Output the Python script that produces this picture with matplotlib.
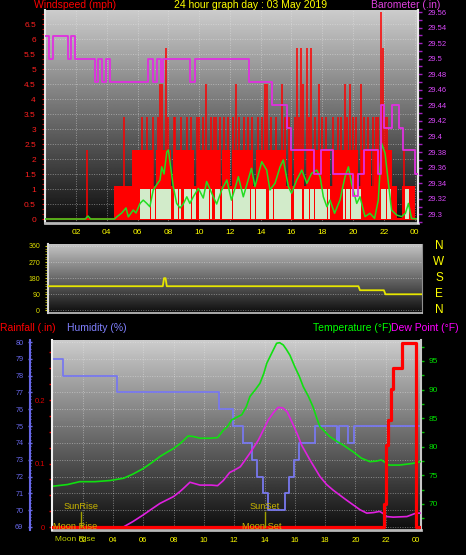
import numpy as np
import matplotlib
matplotlib.use('Agg')
import matplotlib.pyplot as plt
from matplotlib.ticker import MultipleLocator, FuncFormatter
import matplotlib.transforms as mtransforms

plt.rcParams['font.family'] = ['Liberation Sans', 'DejaVu Sans']

# ---------------- data ----------------
hour_ticks = [2, 4, 6, 8, 10, 12, 14, 16, 18, 20, 22, 24]
hour_labels = ['02', '04', '06', '08', '10', '12', '14', '16', '18', '20', '22', '00']

# gust (mph), dominant level per 10-minute slot (6 per hour)
gust_base = [
    0, 0, 0, 0, 0, 0,
    0, 0, 0, 0, 0, 0,
    0, 0, 0, 0, 0, 0,
    0, 0, 0, 0, 0, 0,
    0, 0, 0, 1.1, 1.1, 1.1,
    1.1, 1.1, 1.1, 1.1, 2.3, 2.3,
    2.3, 2.3, 2.3, 2.3, 2.3, 2.3,
    1.1, 2.3, 2.3, 2.3, 2.3, 2.3,
    2.3, 1.1, 2.3, 2.3, 2.3, 2.3,
    2.3, 2.3, 2.3, 2.3, 1.1, 2.3,
    2.3, 2.3, 2.3, 2.3, 2.3, 2.3,
    2.3, 2.3, 1.1, 2.3, 2.3, 2.3,
    1.1, 2.3, 2.3, 2.3, 2.3, 2.3,
    2.3, 2.3, 2.3, 1.1, 2.3, 2.3,
    2.3, 2.3, 2.3, 2.3, 2.3, 2.3,
    2.3, 2.3, 2.3, 2.3, 1.1, 2.3,
    1.1, 2.3, 2.3, 2.3, 2.3, 1.1,
    2.3, 2.3, 2.3, 2.3, 2.3, 2.3,
    2.3, 2.3, 2.3, 1.1, 2.3, 2.3,
    2.3, 2.3, 2.3, 2.3, 2.3, 2.3,
    2.3, 2.3, 1.1, 2.3, 2.3, 2.3,
    2.3, 1.1, 2.3, 2.3, 2.3, 2.3,
    2.3, 2.3, 2.3, 1.1, 1.1, 0,
    0, 1.1, 1.1, 1.1, 1.1, 1.1,
]

# individual gust peaks (hour, mph)
spike_h = [2.69, 5.15, 6.3, 6.64, 7.02, 7.3, 7.46, 7.6, 7.83, 8.0,
           8.35, 8.45, 8.84, 9.2, 9.45, 9.85, 10.0, 10.27, 10.42, 10.8,
           10.95, 11.12, 11.36, 11.6, 11.9, 12.2, 12.38, 12.6, 12.9, 13.2,
           13.45, 13.8, 14.1, 14.3, 14.43, 14.7, 15.0, 15.39, 15.6, 15.85,
           16.2, 16.38, 16.5, 16.64, 16.75, 17.01, 17.15, 17.29, 17.5, 17.79,
           18.0, 18.25, 18.7, 19.0, 19.2, 19.46, 19.6, 19.79, 20.0, 20.2,
           20.5, 20.7, 20.95, 21.3, 21.5, 21.65, 21.8, 21.95, 22.05, 22.2,
           22.4, 23.3, 23.85]
spike_mph = [2.3, 3.4, 3.4, 3.4, 3.4, 3.4, 4.5, 4.5, 5.7, 3.4,
             3.4, 3.4, 3.4, 3.4, 3.4, 3.4, 3.4, 3.4, 4.5, 3.4,
             3.4, 3.4, 3.4, 3.4, 3.4, 3.4, 4.5, 3.4, 3.4, 3.4,
             3.4, 3.4, 3.4, 4.5, 4.5, 3.4, 3.4, 4.5, 3.4, 3.4,
             3.4, 5.7, 3.4, 5.7, 4.5, 5.7, 3.4, 5.7, 3.4, 4.5,
             3.4, 3.4, 3.4, 3.4, 3.4, 4.5, 3.4, 4.5, 3.4, 3.4,
             4.5, 3.4, 3.4, 3.4, 3.4, 3.4, 6.9, 5.7, 3.4, 3.4,
             2.3, 2.3, 1.1]

# wind speed bars (mph) per 10-minute slot
wind_avg = [
    0, 0, 0, 0, 0, 0,
    0, 0, 0, 0, 0, 0,
    0, 0, 0, 0, 0, 0,
    0, 0, 0, 0, 0, 0,
    0, 0, 0, 0, 0, 0,
    0, 0, 0, 0, 0, 0,
    0, 1, 1, 1, 1, 1,
    1, 1, 1, 1, 1, 1,
    1, 0, 1, 1, 1, 0,
    1, 1, 1, 1, 1, 0,
    1, 1, 1, 1, 1, 0,
    1, 1, 0, 1, 1, 1,
    1, 1, 1, 1, 1, 1,
    1, 1, 1, 1, 1, 1,
    1, 1, 0, 1, 1, 1,
    1, 1, 1, 1, 1, 1,
    0, 1, 1, 1, 0, 1,
    1, 1, 1, 1, 1, 1,
    1, 1, 1, 0, 0, 0,
    0, 0, 1, 1, 1, 1,
    1, 1, 1, 0, 0, 0,
    0, 0, 0, 0, 0, 1,
    1, 1, 1, 0, 0, 0,
    0, 0, 1, 1, 0, 0,
]

# average wind line (hour, mph)
wind_h = [0, 2.6, 2.78, 2.95, 4.5, 4.65, 4.97, 5.25, 5.4, 5.72,
          5.9, 6.16, 6.37, 6.6, 6.8, 7.02, 7.24, 7.46, 7.57, 7.72,
          7.9, 8.0, 8.15, 8.32, 8.54, 8.76, 8.97, 9.2, 9.4, 9.62,
          9.95, 10.27, 10.49, 10.7, 10.92, 11.14, 11.47, 11.8, 12.1, 12.55,
          12.87, 13.4, 13.63, 14.07, 14.39, 14.6, 14.93, 15.26, 15.47, 15.8,
          16.0, 16.34, 16.67, 17.0, 17.3, 17.64, 17.86, 18.07, 18.3, 18.5,
          18.8, 19.15, 19.48, 19.7, 19.9, 20.24, 20.45, 20.78, 21.1, 21.4,
          21.64, 21.86, 22.08, 22.3, 22.5, 22.84, 23.16, 23.4, 23.6, 23.8,
          24.2]
wind_mph = [0, 0, 0.1, 0, 0, 0.07, 0.2, 0.37, 0.07, 0.3,
            0.2, 0.52, 0.63, 0.52, 0.41, 0.97, 1.14, 1.3, 1.74, 1.5,
            2.24, 2.3, 1.74, 1.08, 0.52, 0.37, 0.5, 0.74, 0.52, 0.74,
            1.02, 0.7, 1.25, 1.0, 0.74, 0.5, 0.97, 1.3, 0.63, 1.41,
            0.74, 1.69, 1.08, 1.91, 1.63, 0.97, 1.19, 1.74, 1.97, 1.08,
            0.86, 1.3, 1.63, 1.19, 1.52, 1.63, 1.41, 0.74, 0.41, 0.63,
            0.19, 0.63, 1.41, 1.74, 1.19, 0.52, 0.74, 0.08, 0.19, 0.02,
            0.63, 2.52, 2.19, 1.19, 0.3, 0.13, 0.08, 0.19, 0.52, 0.02,
            0]

# barometer (in), step changes
baro_h = [0, 0.27, 0.49, 1.46, 1.68, 1.94, 3.24, 3.45, 3.67, 3.95,
          4.21, 6.70, 6.98, 7.24, 7.52, 7.67, 9.41, 9.73, 13.22, 14.74,
          15.71, 16.0, 17.47, 17.95, 18.67, 19.97, 20.29, 20.71, 21.62, 21.79,
          21.98, 22.5, 22.96, 23.27, 24.03, 24.22]
baro_in = [29.529, 29.500, 29.529, 29.500, 29.529, 29.500, 29.470, 29.500, 29.470, 29.500,
           29.470, 29.500, 29.470, 29.500, 29.470, 29.500, 29.470, 29.500, 29.470, 29.441,
           29.411, 29.382, 29.352, 29.382, 29.352, 29.323, 29.352, 29.382, 29.352, 29.441,
           29.411, 29.441, 29.411, 29.382, 29.352, 29.352]

# wind direction (deg)
dir_h = [0, 7.42, 7.5, 7.6, 7.68, 20.1, 20.2, 21.75, 21.85, 24.2]
dir_deg = [135, 135, 180, 180, 135, 135, 112.5, 112.5, 90, 90]
dir_ticks = [0, 90, 180, 270, 360]
compass_deg = [360, 270, 180, 90, 0]
compass_lbl = ['N', 'W', 'S', 'E', 'N']

# humidity (%) step changes
hum_h = [0, 0.72, 4.24, 11.0, 11.9, 12.56, 13.2, 13.5, 13.9, 14.25,
         15.35, 15.6, 15.97, 16.3, 17.33, 18.8, 18.94, 19.5, 19.9, 24.33]
hum_v = [79, 78, 77, 76, 75, 74, 73, 72, 71, 70,
         71, 72, 73, 74, 75, 74, 75, 74, 75, 75]

# temperature (F)
temp_h = [0.0, 1.0, 1.8, 2.8, 3.8, 4.7, 5.3, 6.0, 6.6, 7.1,
          7.6, 8.0, 8.45, 8.97, 9.3, 9.75, 10.4, 10.9, 11.28, 11.55,
          11.83, 12.2, 12.5, 12.8, 13.04, 13.4, 13.7, 13.95, 14.15, 14.5,
          14.8, 15.0, 15.24, 15.45, 15.68, 16.0, 16.3, 16.56, 16.9, 17.2,
          17.45, 17.66, 18.0, 18.3, 18.8, 19.2, 19.86, 20.4, 20.96, 21.4,
          21.7, 21.95, 22.2, 22.9, 23.5, 23.8, 24.3]
temp_v = [73.1, 73.4, 73.9, 73.9, 74.1, 74.5, 75.2, 76.2, 77.3, 78.3,
          79.1, 79.7, 80.6, 81.9, 81.8, 81.5, 81.5, 81.6, 82.9, 83.5,
          84.7, 85.2, 85.6, 87.0, 88.8, 90.0, 91.1, 92.8, 94.6, 96.5,
          98.1, 98.2, 97.8, 97.0, 96.0, 94.0, 92.3, 90.5, 88.8, 87.0,
          85.0, 83.5, 82.6, 81.8, 80.9, 80.3, 79.1, 78.0, 77.4, 77.5,
          77.7, 77.3, 76.8, 76.8, 77.0, 77.1, 77.4]

# dew point (F)
dew_h = [0.0, 2.0, 4.24, 4.7, 5.3, 6.0, 6.6, 7.1, 8.0, 8.43,
         8.64, 9.08, 9.74, 10.5, 10.9, 11.28, 11.7, 12.0, 12.4, 12.7,
         13.04, 13.6, 13.9, 14.25, 14.6, 14.9, 15.2, 15.5, 15.9, 16.2,
         16.45, 17.0, 17.66, 18.1, 18.54, 19.4, 20.3, 20.75, 21.2, 21.6,
         21.85, 22.07, 22.5, 23.4, 24.0, 24.3]
dew_v = [65.8, 65.9, 66.0, 66.0, 66.9, 68.1, 69.2, 70.1, 71.3, 72.2,
         72.7, 73.8, 73.3, 73.3, 73.2, 74.1, 75.5, 75.9, 76.5, 77.6,
         78.9, 81.2, 82.8, 84.7, 86.0, 86.9, 86.8, 86.1, 83.8, 82.0,
         80.3, 77.7, 74.8, 73.4, 72.4, 70.7, 69.0, 68.4, 68.5, 68.7,
         68.3, 67.8, 67.7, 67.8, 68.4, 68.4]

# rainfall (in), step changes
rain_h = [0, 21.9, 22.0, 22.17, 22.33, 22.5, 23.1, 24.0, 24.33]
rain_in = [0, 0.037, 0.129, 0.168, 0.218, 0.25, 0.29, 0.0, 0.0]

# sun / moon events
event_names = ['SunRise', 'SunSet', 'Moon Rise', 'Moon Set']
event_h = [1.9, 14.0, 1.5, 13.8]

# ---------------- figure ----------------
W, H = 466, 555
fig = plt.figure(figsize=(W / 100, H / 100), dpi=100)
fig.patch.set_facecolor('black')


def rect(l, t, r, b):
    return [l / W, 1 - b / H, (r - l) / W, (b - t) / H]


def fy(y):
    return 1 - y / H


def gradient(ax, top, bottom):
    g = np.linspace(top, bottom, 256).reshape(-1, 1)
    ax.imshow(g, cmap='gray', vmin=0, vmax=1, extent=[0, 1, 0, 1],
              transform=ax.transAxes, aspect='auto', zorder=0)


GRID = dict(color='#e8e8e8', alpha=0.45, linestyle=(0, (1, 1.5)), linewidth=0.7)
gfmt = FuncFormatter(lambda v, p: '%g' % round(v, 4))
YEL = '#ffff00'

# ---------- top panel: wind + barometer ----------
axW = fig.add_axes(rect(45.2, 10, 418, 223))
axW.set_facecolor('black')
gradient(axW, 0.80, 0.05)
slot_h = np.arange(len(gust_base)) / 6.0
axW.bar(slot_h, gust_base, width=1 / 6 + 0.004, align='edge', color='#ff0000',
        linewidth=0, zorder=2)
axW.vlines(spike_h, 0, spike_mph, colors='#ff0000', linewidth=1.1, zorder=2)
axW.axhline(0, color='#ff0000', lw=1.5, zorder=2)
axW.bar(slot_h + 0.01, wind_avg, width=0.15, align='edge', color='#d2ebca',
        linewidth=0, zorder=3)
axW.plot(wind_h, wind_mph, color='#22dd22', lw=1.1, zorder=4)
axW.set_xlim(0, 24.22)
axW.set_ylim(-0.133, 6.967)
axW.set_xticks(hour_ticks)
axW.set_xticklabels(hour_labels)
axW.yaxis.set_major_locator(MultipleLocator(0.5))
axW.yaxis.set_minor_locator(MultipleLocator(1 / 6))
axW.yaxis.set_major_formatter(gfmt)
axW.tick_params(axis='x', which='both', length=0, pad=4.3, labelsize=6, labelcolor=YEL)
axW.tick_params(axis='y', which='major', length=2.2, width=0.8, color='#ff0000',
                labelcolor='#ff2020', labelsize=6, pad=4.5)
axW.tick_params(axis='y', which='minor', length=2.2, width=0.8, color='#cc0000')
axW.grid(True, which='major', **GRID)
axW.set_axisbelow(True)
axW.spines['top'].set_visible(False)
axW.spines['left'].set_color('#e8e8e8')
axW.spines['left'].set_linewidth(1.5)
axW.spines['bottom'].set_color('#b8b8b8')
axW.spines['bottom'].set_linewidth(2)
axW.spines['right'].set_color('#e8e8e8')
axW.spines['right'].set_linewidth(1.5)

axP = axW.twinx()
axP.plot(baro_h, baro_in, drawstyle='steps-post', color='#e030e0', lw=1.3, zorder=5)
axP.set_ylim(29.2888, 29.5626)
axP.yaxis.set_major_locator(MultipleLocator(0.02))
axP.yaxis.set_minor_locator(MultipleLocator(0.01))
axP.yaxis.set_major_formatter(gfmt)
axP.tick_params(axis='y', which='major', length=3, width=1, color='#a020c0',
                labelcolor='#d848f8', labelsize=5.5, pad=3.8)
axP.tick_params(axis='y', which='minor', length=3, width=1, color='#a020c0')
for s in ['left', 'top', 'bottom']:
    axP.spines[s].set_visible(False)
axP.spines['right'].set_color('#e8e8e8')
axP.spines['right'].set_linewidth(1.5)

fig.text(34.3 / W, fy(5.5), 'Windspeed (mph)', color='#ff0000', fontsize=7.5,
         ha='left', va='center')
fig.text(251 / W, fy(5.5), '24 hour graph day : 03 May 2019', color=YEL, fontsize=7.5,
         ha='center', va='center')
fig.text(371.3 / W, fy(5.5), 'Barometer (.in)', color='#e040e0', fontsize=7.5,
         ha='left', va='center')

# ---------- middle panel: wind direction ----------
axD = fig.add_axes(rect(48.3, 244.3, 421.7, 312.5))
axD.set_facecolor('black')
gradient(axD, 0.78, 0.06)
axD.plot(dir_h, dir_deg, color='#e6e600', lw=1.3, zorder=3)
axD.set_xlim(0, 24.2)
axD.set_ylim(-12, 369.5)
axD.set_xticks([])
axD.set_yticks(dir_ticks)
axD.yaxis.set_minor_locator(MultipleLocator(15))
axD.tick_params(axis='y', which='major', length=2.5, color='#d0d000',
                labelcolor='#e0e000', labelsize=5, pad=3.4)
axD.tick_params(axis='y', which='minor', length=2, color='#b0b000')
axD.grid(True, axis='y', **GRID)
axD.set_axisbelow(True)
axD.spines['top'].set_visible(False)
axD.spines['left'].set_color('#d8d8d8')
axD.spines['left'].set_linewidth(1.5)
axD.spines['bottom'].set_color('#c8c8c8')
axD.spines['bottom'].set_linewidth(1.2)
axD.spines['right'].set_color('#909090')
tD = mtransforms.blended_transform_factory(axD.transAxes, axD.transData)
for d, lb in zip(compass_deg, compass_lbl):
    axD.text(1.046, d, lb, transform=tD, color=YEL, fontsize=8.5,
             ha='center', va='center')

# ---------- bottom panel: humidity / temperature / rain ----------
axH = fig.add_axes(rect(52.4, 340, 421, 530))
axH.set_facecolor('black')
gradient(axH, 0.80, 0.05)
axH.plot(hum_h, hum_v, drawstyle='steps-post', color='#7878ee', lw=1.3, zorder=3)
axH.set_xlim(0, 24.33)
axH.set_ylim(68.82, 80.12)
axH.spines['left'].set_position(('outward', 16.1))
axH.spines['left'].set_color('#6868e8')
axH.spines['left'].set_linewidth(1.5)
for s in ['top', 'right']:
    axH.spines[s].set_visible(False)
axH.spines['bottom'].set_color('#b8b8b8')
axH.spines['bottom'].set_linewidth(2)
axH.yaxis.set_major_locator(MultipleLocator(1))
axH.yaxis.set_minor_locator(MultipleLocator(0.2))
axH.tick_params(axis='y', which='major', direction='inout', length=3, width=1,
                color='#6868e8', labelcolor='#6a6af0', labelsize=5.2, pad=3.3)
axH.tick_params(axis='y', which='minor', direction='inout', length=2, width=0.8,
                color='#6868e8')
axH.set_xticks(hour_ticks)
axH.set_xticklabels(hour_labels)
axH.tick_params(axis='x', which='both', length=0, pad=4.7, labelsize=5.5, labelcolor=YEL)
axH.grid(True, which='major', **GRID)
axH.set_axisbelow(True)

axT = axH.twinx()
axT.plot(temp_h, temp_v, color='#10e010', lw=1.2, zorder=3)
axT.plot(dew_h, dew_v, color='#e020e0', lw=1.2, zorder=3)
axT.set_ylim(65.45, 98.67)
axT.yaxis.set_major_locator(MultipleLocator(5))
axT.yaxis.set_minor_locator(MultipleLocator(2.5))
axT.tick_params(axis='y', which='major', length=2.5, width=1, color='#00c000',
                labelcolor='#00e000', labelsize=6, pad=3.1)
axT.tick_params(axis='y', which='minor', length=2.5, width=1, color='#00c000')
for s in ['left', 'top', 'bottom']:
    axT.spines[s].set_visible(False)
axT.spines['right'].set_color('#c8c8c8')
axT.spines['right'].set_linewidth(1.5)

axR = axH.twinx()
axR.plot(rain_h, rain_in, drawstyle='steps-post', color='#ff0000', lw=2.3, zorder=4)
axR.set_ylim(-0.0047, 0.2945)
axR.yaxis.tick_left()
axR.yaxis.set_major_locator(MultipleLocator(0.1))
axR.yaxis.set_minor_locator(MultipleLocator(0.025))
axR.yaxis.set_major_formatter(gfmt)
axR.tick_params(axis='y', which='major', length=2.2, width=1, color='#e00000',
                labelcolor='#dd0000', labelsize=5.5, pad=3.2)
axR.tick_params(axis='y', which='minor', length=2.2, width=1, color='#e00000')
for s in ['right', 'top', 'bottom']:
    axR.spines[s].set_visible(False)
axR.spines['left'].set_color('#f0f0f0')
axR.spines['left'].set_linewidth(1.5)

tE = mtransforms.blended_transform_factory(axR.transData, axR.transAxes)
ev_y = [0.1226, 0.1226, 0.021, 0.021]
for nm, h, yy in zip(event_names, event_h, ev_y):
    axR.text(h, yy, nm, transform=tE, color='#c8b400', fontsize=6.7,
             ha='center', va='center', zorder=6)
for h in event_h[:2]:
    axR.plot([h, h], [0.016, 0.095], transform=tE, color='#a0a000', lw=1, zorder=5)
axR.text(event_h[2], -0.0526, 'Moon Rise', transform=tE, color='#c0d000',
         fontsize=6, ha='center', va='center', clip_on=False)

fig.text(0.5 / W, fy(327.7), 'Rainfall (.in)', color='#ff0000', fontsize=7.5,
         ha='left', va='center')
fig.text(66.7 / W, fy(327.7), 'Humidity (%)', color='#8080ff', fontsize=7.5,
         ha='left', va='center')
fig.text(313 / W, fy(327.7), 'Temperature (°F)', color='#00ff00', fontsize=7.5,
         ha='left', va='center')
fig.text(391.3 / W, fy(327.7), 'Dew Point (°F)', color='#ff00ff', fontsize=7.5,
         ha='left', va='center')

fig.savefig('out.png', dpi=100, facecolor='black')
